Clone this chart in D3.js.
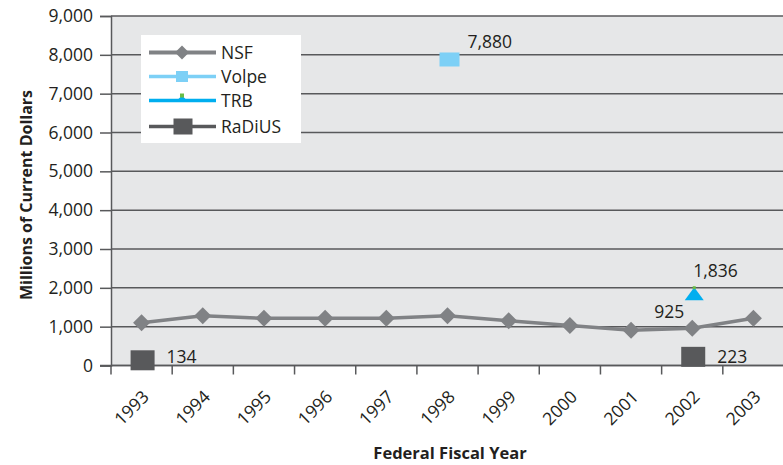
<!DOCTYPE html>
<html><head><meta charset="utf-8">
<script src="https://cdn.jsdelivr.net/npm/d3@7"></script>
<style>
html,body{margin:0;padding:0;background:#fff;}
svg{display:block;font-family:"Open Sans","Noto Sans",sans-serif;}
</style></head>
<body><svg id="chart" width="783" height="465"></svg>
<script>
const years = ["1993","1994","1995","1996","1997","1998","1999","2000","2001","2002","2003"];
const nsfValues = [1100, 1280, 1215, 1215, 1215, 1280, 1150, 1030, 910, 960, 1215];
const nsfLabel = {year:"2002", text:"925"};
const volpe = [{year:"1998", value:7880}];
const trb = [{year:"2002", value:1836}];
const radius = [{year:"1993", value:134}, {year:"2002", value:223}];
const yTicks = [0,1000,2000,3000,4000,5000,6000,7000,8000,9000];
const legendNames = ["NSF","Volpe","TRB","RaDiUS"];

(function(){
const svg = d3.select("#chart");
const pL = 111, pR = 784, pT = 16, pB = 365.5;
const x = d3.scaleBand().domain(years).range([pL, pR]).paddingInner(0).paddingOuter(0);
const y = d3.scaleLinear().domain([0, 9000]).range([pB, pT]);
const cx = yr => x(yr) + x.bandwidth()/2;
const fmt = d3.format(",");
const textCol = "#231f20", gridCol = "#58595b";
const FS = "17.5px";

// plot background
svg.append("rect").attr("x", pL).attr("y", pT).attr("width", 783-pL).attr("height", pB-pT).attr("fill", "#e6e7e8");

// y axis with gridlines
const yAxis = d3.axisLeft(y).tickValues(yTicks).tickFormat(fmt).tickSize(11).tickPadding(7);
const gy = svg.append("g").attr("transform", `translate(${pL},0)`).call(yAxis);
gy.select(".domain").attr("stroke", gridCol).attr("stroke-width", 1.5);
gy.selectAll(".tick line").attr("stroke", gridCol).attr("stroke-width", 1.5);
gy.selectAll(".tick text").attr("fill", textCol).style("font-size", FS).style("font-family", "'Open Sans'");
svg.append("g").selectAll("line").data(yTicks).join("line")
  .attr("x1", pL).attr("x2", 783).attr("y1", d => y(d)).attr("y2", d => y(d))
  .attr("stroke", gridCol).attr("stroke-width", 1.5);

// x axis
svg.append("line").attr("x1", 100).attr("x2", 783).attr("y1", pB).attr("y2", pB).attr("stroke", gridCol).attr("stroke-width", 1.5);
svg.append("g").selectAll("line").data(years).join("line")
  .attr("x1", d => x(d) + x.bandwidth()).attr("x2", d => x(d) + x.bandwidth())
  .attr("y1", pB).attr("y2", pB + 9).attr("stroke", gridCol).attr("stroke-width", 1.5);
svg.append("line").attr("x1", pL).attr("x2", pL).attr("y1", pB).attr("y2", pB+9).attr("stroke", gridCol).attr("stroke-width", 1.5);
svg.append("g").selectAll("text").data(years).join("text")
  .attr("transform", d => `translate(${cx(d)+8.5},${pB+32.5}) rotate(-45)`)
  .attr("text-anchor", "end").attr("fill", textCol).style("font-size", FS).text(d => d);

// axis titles
svg.append("text").attr("transform", `translate(32,195) rotate(-90)`)
  .attr("text-anchor", "middle").attr("fill", textCol).style("font-size", "16px").style("font-weight", "bold")
  .text("Millions of Current Dollars");
svg.append("text").attr("x", 450).attr("y", 459).attr("text-anchor", "middle").attr("fill", textCol)
  .style("font-size", "16.5px").style("font-weight", "bold").text("Federal Fiscal Year");

// NSF line
const nsf = years.map((yr, i) => ({year: yr, value: nsfValues[i]}));
svg.append("path").datum(nsf)
  .attr("d", d3.line().x(d => cx(d.year)).y(d => y(d.value)))
  .attr("fill", "none").attr("stroke", "#808285").attr("stroke-width", 3.5);
const diamond = s => `M0,${-s}L${s},0L0,${s}L${-s},0Z`;
svg.append("g").selectAll("path").data(nsf).join("path")
  .attr("transform", d => `translate(${cx(d.year)},${y(d.value)})`)
  .attr("d", diamond(8.5)).attr("fill", "#808285");

// Volpe
svg.append("g").selectAll("rect").data(volpe).join("rect")
  .attr("x", d => cx(d.year) - 8).attr("y", d => y(d.value) - 7).attr("width", 20).attr("height", 14)
  .attr("fill", "#7dd0f6");
// TRB
svg.append("g").selectAll("path").data(trb).join("path")
  .attr("transform", d => `translate(${cx(d.year)+2},${y(d.value)})`)
  .attr("d", "M0,-7L9.5,6L-9.5,6Z").attr("fill", "#00aeef");
svg.append("g").selectAll("rect").data(trb).join("rect")
  .attr("x", d => cx(d.year)+0.5).attr("y", d => y(d.value) - 8).attr("width", 3).attr("height", 3).attr("fill", "#6abd45");
// RaDiUS
svg.append("g").selectAll("rect").data(radius).join("rect")
  .attr("x", d => cx(d.year) - 11).attr("y", d => y(d.value) - 10).attr("width", 24).attr("height", 20)
  .attr("fill", "#58595b");

// data labels
const lblStyle = sel => sel.attr("fill", textCol).style("font-size", FS);
svg.append("text").call(lblStyle).attr("x", cx("1998") + 20).attr("y", y(7880) - 11).text(fmt(volpe[0].value));
svg.append("text").call(lblStyle).attr("x", cx("1993") + 25).attr("y", y(134) + 3).text(fmt(radius[0].value));
svg.append("text").call(lblStyle).attr("x", cx("2002") + 25).attr("y", y(223) + 6).text(fmt(radius[1].value));
svg.append("text").call(lblStyle).attr("x", cx(nsfLabel.year) - 38).attr("y", 318).text(nsfLabel.text);
svg.append("text").call(lblStyle).attr("x", cx("2002") + 1).attr("y", y(1836) - 17).text(fmt(trb[0].value));

// legend
const lg = svg.append("g");
lg.append("rect").attr("x", 141).attr("y", 35).attr("width", 160).attr("height", 108).attr("fill", "#fff");
const ly = [52.5, 76.5, 100.5, 126.5];
const x1 = 149, x2 = 216, mx = 182;
lg.append("line").attr("x1", x1).attr("x2", x2).attr("y1", ly[0]).attr("y2", ly[0]).attr("stroke", "#808285").attr("stroke-width", 4);
lg.append("path").attr("transform", `translate(${mx},${ly[0]})`).attr("d", diamond(7)).attr("fill", "#808285");
lg.append("line").attr("x1", x1).attr("x2", x2).attr("y1", ly[1]).attr("y2", ly[1]).attr("stroke", "#7dd0f6").attr("stroke-width", 3.5);
lg.append("rect").attr("x", mx-6).attr("y", ly[1]-5.5).attr("width", 12).attr("height", 11).attr("fill", "#7dd0f6");
lg.append("line").attr("x1", x1).attr("x2", x2).attr("y1", ly[2]).attr("y2", ly[2]).attr("stroke", "#00aeef").attr("stroke-width", 3.5);
lg.append("path").attr("transform", `translate(${mx},${ly[2]})`).attr("d", "M0,-5L6,1L-6,1Z").attr("fill", "#00aeef");
lg.append("rect").attr("x", mx-2).attr("y", ly[2]-7).attr("width", 4).attr("height", 4).attr("fill", "#6abd45");
lg.append("line").attr("x1", x1).attr("x2", x2).attr("y1", ly[3]).attr("y2", ly[3]).attr("stroke", "#58595b").attr("stroke-width", 3.5);
lg.append("rect").attr("x", mx-8.5).attr("y", ly[3]-8).attr("width", 19).attr("height", 16).attr("fill", "#58595b");
lg.selectAll("text.leg").data(legendNames).join("text").attr("class", "leg")
  .attr("x", 221).attr("y", (d, i) => ly[i] + 6).attr("fill", textCol).style("font-size", FS).text(d => d);
})();
</script></body></html>
